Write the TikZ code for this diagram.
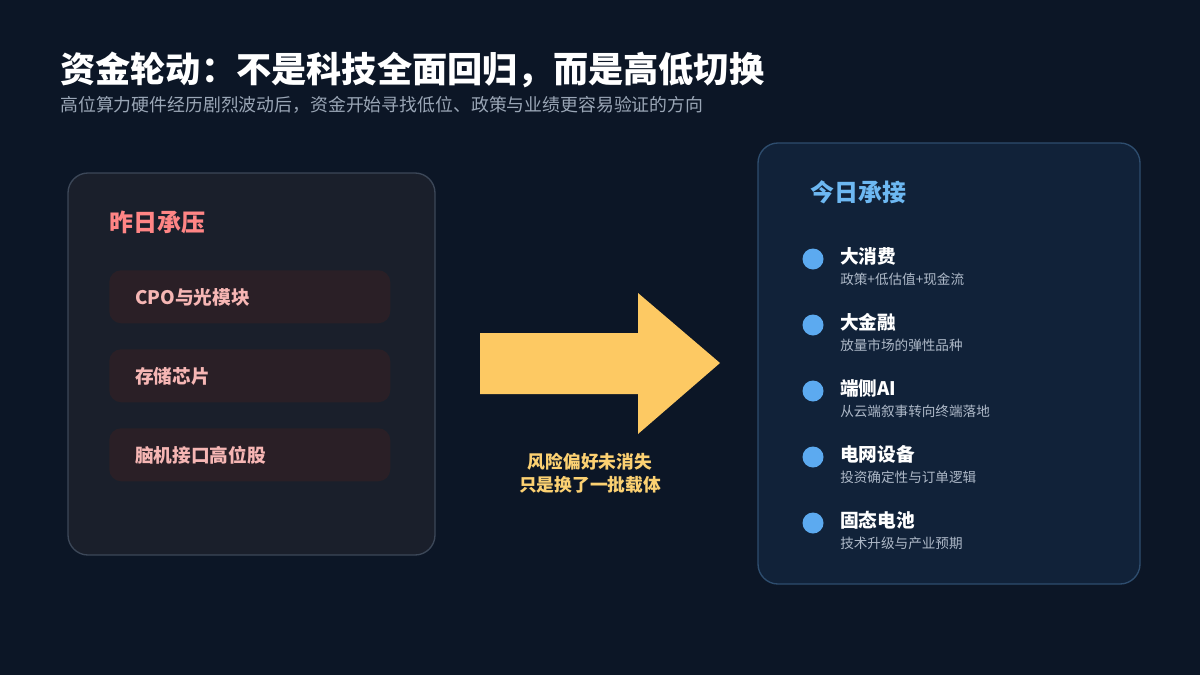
\documentclass[tikz,border=0pt]{standalone}
\usepackage{fontspec}
\setmainfont{Noto Sans CJK SC}
\definecolor{bg}{HTML}{0C1626}
\definecolor{lfill}{HTML}{1A1F2B}
\definecolor{lborder}{HTML}{3C4758}
\definecolor{ifill}{HTML}{2A1F26}
\definecolor{itext}{HTML}{F6B6B4}
\definecolor{lhead}{HTML}{FF8585}
\definecolor{rfill}{HTML}{112239}
\definecolor{rborder}{HTML}{2E4D6E}
\definecolor{rhead}{HTML}{6DB8F2}
\definecolor{dotc}{HTML}{5CAAF0}
\definecolor{subc}{HTML}{AEB9C8}
\definecolor{subt}{HTML}{9AA6B6}
\definecolor{arrowc}{HTML}{FDC963}
\definecolor{atext}{HTML}{FCD172}
\tikzset{
  px/.style={x=0.75pt,y=-0.75pt},
  itembox/.style={draw=none,fill=ifill,rounded corners=9pt,minimum width=210.75pt,minimum height=39.75pt,anchor=north west,inner sep=0pt},
  itemtext/.style={anchor=west,inner sep=0pt,text=itext,font=\fontsize{14pt}{16pt}\selectfont\bfseries},
  rtitle/.style={anchor=west,inner sep=0pt,text=white,font=\fontsize{14pt}{16pt}\selectfont\bfseries},
  rsub/.style={anchor=west,inner sep=0pt,text=subc,font=\fontsize{10.2pt}{13pt}\selectfont},
  bullet/.style={circle,fill=dotc,draw=none,minimum size=15.75pt,inner sep=0pt},
  panelhead/.style={anchor=west,inner sep=0pt,font=\fontsize{18pt}{20pt}\selectfont\bfseries}
}
\begin{document}
\begin{tikzpicture}[px]
\fill[bg] (0,0) rectangle (1200,675);
\useasboundingbox (0,0) rectangle (1200,675);
% title
\node[anchor=west,inner sep=0pt,text=white,font=\fontsize{26.4pt}{32pt}\selectfont\bfseries] (title) at (60,70) {资金轮动：不是科技全面回归，而是高低切换};
\node[anchor=west,inner sep=0pt,text=subt,font=\fontsize{13.4pt}{15pt}\selectfont] (subtitle) at (60,105) {高位算力硬件经历剧烈波动后，资金开始寻找低位、政策与业绩更容易验证的方向};
% left panel
\draw[fill=lfill,draw=lborder,line width=1pt,rounded corners=15pt] (68,173) rectangle (435,555);
\node[panelhead,text=lhead] (lh) at (109,222) {昨日承压};
\node[itembox] (b1) at (109,270) {};
\node[itembox] (b2) at (109,349) {};
\node[itembox] (b3) at (109,428) {};
\node[itemtext] (t1) at (135,297) {CPO与光模块};
\node[itemtext] (t2) at (135,376) {存储芯片};
\node[itemtext] (t3) at (135,455) {脑机接口高位股};
% arrow
\fill[arrowc] (480,333) -- (638,333) -- (638,293) -- (720,363) -- (638,434) -- (638,394) -- (480,394) -- cycle;
\node[align=center,inner sep=0pt,text=atext,font=\fontsize{13.3pt}{17.5pt}\selectfont\bfseries] (at) at (590,473) {风险偏好未消失\\只是换了一批载体};
% right panel
\draw[fill=rfill,draw=rborder,line width=1pt,rounded corners=15pt] (758,143) rectangle (1140,584);
\node[panelhead,text=rhead] (rh) at (810,192) {今日承接};
\node[bullet] (d1) at (813,259) {};
\node[rtitle] (rt1) at (840,256) {大消费};
\node[rsub] (rs1) at (840,279) {政策+低估值+现金流};
\node[bullet] (d2) at (813,325) {};
\node[rtitle] (rt2) at (840,322) {大金融};
\node[rsub] (rs2) at (840,345) {放量市场的弹性品种};
\node[bullet] (d3) at (813,391) {};
\node[rtitle] (rt3) at (840,388) {端侧AI};
\node[rsub] (rs3) at (840,411) {从云端叙事转向终端落地};
\node[bullet] (d4) at (813,457) {};
\node[rtitle] (rt4) at (840,454) {电网设备};
\node[rsub] (rs4) at (840,477) {投资确定性与订单逻辑};
\node[bullet] (d5) at (813,523) {};
\node[rtitle] (rt5) at (840,520) {固态电池};
\node[rsub] (rs5) at (840,543) {技术升级与产业预期};
\end{tikzpicture}
\end{document}
